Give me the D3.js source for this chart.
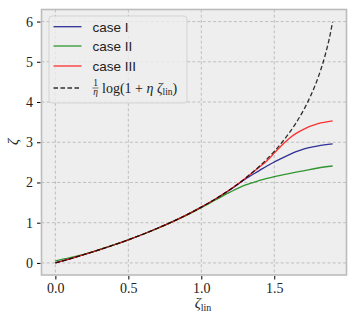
<!DOCTYPE html>
<html><head><meta charset="utf-8">
<script src="https://cdn.jsdelivr.net/npm/d3@7"></script>
<style>
html,body{margin:0;padding:0;background:#fff;}
svg{display:block;}
</style></head>
<body>
<svg id="chart" width="357" height="323"></svg>
<script>
// ---- data ----
const refX = [0,0.1,0.2,0.3,0.4,0.5,0.6,0.7,0.8,0.9,1.0,1.1,1.2,1.3,1.4,1.5,1.55,1.6,1.65,1.7,1.75,1.8,1.85,1.875,1.9];
const refY = [0,0.103,0.211,0.325,0.446,0.575,0.713,0.862,1.022,1.196,1.386,1.597,1.833,2.100,2.408,2.773,2.983,3.219,3.486,3.794,4.159,4.605,5.181,5.545,5.992];

const caseX   = [0,0.1,0.2,0.3,0.4,0.5,0.6,0.7,0.8,0.9,1.0,1.1,1.2,1.3,1.4,1.45,1.5,1.55,1.6,1.65,1.7,1.8,1.9];
const caseI   = [0,0.103,0.211,0.325,0.446,0.575,0.713,0.862,1.022,1.196,1.386,1.595,1.825,2.08,2.30,2.41,2.51,2.60,2.685,2.765,2.83,2.91,2.96];
const caseII  = [0.05,0.13,0.22,0.33,0.446,0.575,0.713,0.86,1.02,1.19,1.375,1.57,1.765,1.935,2.05,2.10,2.145,2.185,2.22,2.255,2.29,2.36,2.41];
const caseIII = [0,0.103,0.211,0.325,0.446,0.575,0.713,0.862,1.022,1.196,1.386,1.597,1.833,2.10,2.39,2.54,2.73,2.92,3.09,3.22,3.32,3.46,3.53];

const xTicks = [0,0.5,1.0,1.5];
const xTickLabels = ["0.0","0.5","1.0","1.5"];
const yTicks = [0,1,2,3,4,5,6];
const yTickLabels = ["0","1","2","3","4","5","6"];
const seriesNames = ["case I","case II","case III"];
const seriesColors = ["#000080","#008000","#ff0000"];

// ---- layout ----
const svg = d3.select("#chart");
const L = 41.5, R = 346.5, T = 9.5, B = 275;
const x = d3.scaleLinear().domain([-0.095, 1.995]).range([L, R]);
const y = d3.scaleLinear().domain([-0.3, 6.3]).range([B, T]);

svg.append("rect").attr("x",L).attr("y",T).attr("width",R-L).attr("height",B-T).attr("fill","#eeeeee");

// grid
const grid = svg.append("g").attr("stroke","#b2b2b2").attr("stroke-width",0.8).attr("stroke-dasharray","3,2.2");
grid.selectAll(".gx").data(xTicks).join("line")
  .attr("x1",d=>x(d)).attr("x2",d=>x(d)).attr("y1",T).attr("y2",B);
grid.selectAll(".gy").data(yTicks).join("line")
  .attr("y1",d=>y(d)).attr("y2",d=>y(d)).attr("x1",L).attr("x2",R);

// lines
const clip = svg.append("clipPath").attr("id","clip").append("rect").attr("x",L).attr("y",T).attr("width",R-L).attr("height",B-T);
const plot = svg.append("g").attr("clip-path","url(#clip)");
const line = d3.line().x(d=>x(d[0])).y(d=>y(d[1])).curve(d3.curveMonotoneX);
[caseI, caseII, caseIII].forEach((s,i)=>{
  plot.append("path").attr("d", line(caseX.map((v,j)=>[v,s[j]])))
    .attr("fill","none").attr("stroke",seriesColors[i]).attr("stroke-opacity",0.8).attr("stroke-width",1.3);
});
plot.append("path").attr("d", line(refX.map((v,j)=>[v,refY[j]])))
  .attr("fill","none").attr("stroke","#000").attr("stroke-opacity",0.8).attr("stroke-width",1.3)
  .attr("stroke-dasharray","4.5,2.5");

// frame
svg.append("rect").attr("x",L).attr("y",T).attr("width",R-L).attr("height",B-T)
  .attr("fill","none").attr("stroke","#bcbcbc").attr("stroke-width",1.6);

// axes
const xAxis = d3.axisBottom(x).tickValues(xTicks).tickFormat((d,i)=>xTickLabels[i]).tickSize(3.5).tickPadding(4);
const yAxis = d3.axisLeft(y).tickValues(yTicks).tickFormat((d,i)=>yTickLabels[i]).tickSize(3.5).tickPadding(4);
const gx = svg.append("g").attr("transform",`translate(0,${B+1})`).call(xAxis);
const gy = svg.append("g").attr("transform",`translate(${L-1},0)`).call(yAxis);
[gx,gy].forEach(g=>{
  g.select(".domain").remove();
  g.selectAll(".tick line").attr("stroke","#000").attr("stroke-width",1);
  g.selectAll(".tick text").attr("font-family","'Liberation Serif', serif").attr("font-size",14).attr("fill","#222");
});

// axis labels
const xl = svg.append("text").attr("x",203).attr("y",308).attr("text-anchor","middle")
  .attr("font-family","'Liberation Serif', serif").attr("font-size",15).attr("fill","#222");
xl.append("tspan").attr("font-style","italic").text("ζ");
xl.append("tspan").attr("font-size",10).attr("dy",3).text("lin");
svg.append("text").attr("transform","translate(18,142) rotate(-90)").attr("text-anchor","middle")
  .attr("font-family","'Liberation Serif', serif").attr("font-style","italic").attr("font-size",15).attr("fill","#222").text("ζ");

// legend
const lg = svg.append("g");
lg.append("rect").attr("x",49).attr("y",16).attr("width",138).attr("height",87).attr("rx",3)
  .attr("fill","#eeeeee").attr("fill-opacity",0.8).attr("stroke","#cccccc").attr("stroke-opacity",0.8);
const rowsY = [26.7,46,66,88];
seriesNames.forEach((n,i)=>{
  lg.append("line").attr("x1",53.5).attr("x2",81.5).attr("y1",rowsY[i]).attr("y2",rowsY[i])
    .attr("stroke",seriesColors[i]).attr("stroke-opacity",0.8).attr("stroke-width",1.3);
  lg.append("text").attr("x",92.5).attr("y",rowsY[i]+5).attr("font-family","'Liberation Sans', sans-serif")
    .attr("font-size",13.5).attr("fill","#222").text(n);
});
lg.append("line").attr("x1",53.5).attr("x2",81.5).attr("y1",rowsY[3]).attr("y2",rowsY[3])
  .attr("stroke","#000").attr("stroke-opacity",0.8).attr("stroke-width",1.3).attr("stroke-dasharray","4.5,2.5");
const ff = "'Liberation Serif', serif";
lg.append("text").attr("x",95.5).attr("y",rowsY[3]-2).attr("text-anchor","middle").attr("font-family",ff).attr("font-size",9.5).attr("fill","#222").text("1");
lg.append("line").attr("x1",92.5).attr("x2",98.5).attr("y1",rowsY[3]).attr("y2",rowsY[3]).attr("stroke","#222").attr("stroke-width",0.6);
lg.append("text").attr("x",95.5).attr("y",rowsY[3]+7).attr("text-anchor","middle").attr("font-family",ff).attr("font-style","italic").attr("font-size",9.5).attr("fill","#222").text("η");
const ft = lg.append("text").attr("x",102).attr("y",rowsY[3]+4.5).attr("font-family",ff).attr("font-size",14).attr("fill","#222");
ft.append("tspan").text("log(1 + ");
ft.append("tspan").attr("font-style","italic").text("η ζ");
ft.append("tspan").attr("font-size",9.5).attr("dy",2.5).text("lin");
ft.append("tspan").attr("dy",-2.5).text(")");
</script>
</body></html>
